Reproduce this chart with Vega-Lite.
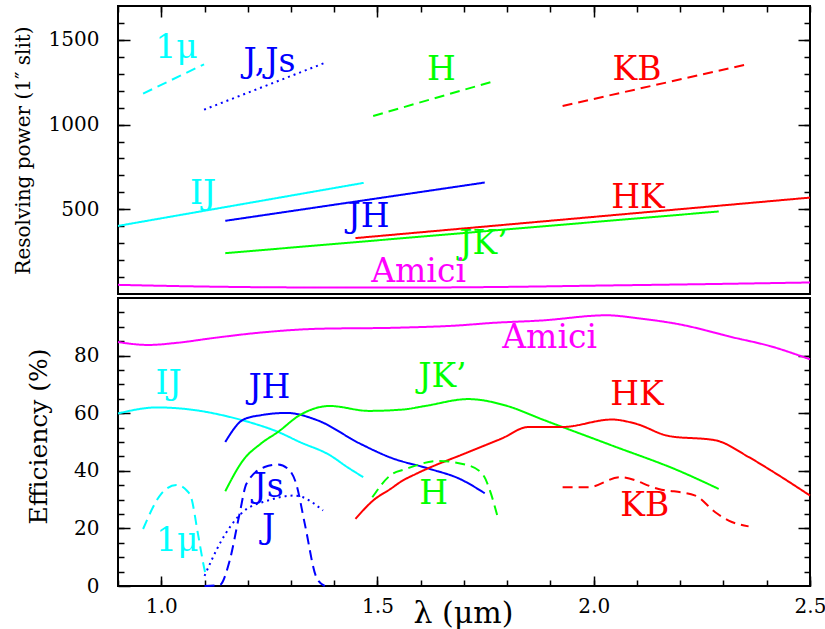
{
  "$schema": "https://vega.github.io/schema/vega-lite/v6.json",
  "autosize": {"type": "pad"},
  "padding": {"left": 12, "top": 4, "right": 0, "bottom": 3},
  "background": "white",
  "config": {
    "view": {"stroke": "black", "strokeWidth": 2},
    "axis": {"domain": false, "grid": false, "tickColor": "black", "tickWidth": 1.5, "labelFont": "DejaVu Serif", "labelFontSize": 20, "labelColor": "black", "titleFont": "DejaVu Serif", "titleColor": "black", "titleFontWeight": "normal", "labelFlush": false, "labelOverlap": false},
    "text": {"font": "DejaVu Serif"}
  },
  "datasets": {
    "top": [
      {"series": "1μ", "x": 0.958, "y": 1183}, {"series": "1μ", "x": 1.099, "y": 1356},
      {"series": "J,Js", "x": 1.099, "y": 1088}, {"series": "J,Js", "x": 1.378, "y": 1364},
      {"series": "H", "x": 1.49, "y": 1051}, {"series": "H", "x": 1.77, "y": 1257},
      {"series": "KB", "x": 1.928, "y": 1110}, {"series": "KB", "x": 2.348, "y": 1352},
      {"series": "IJ", "x": 0.9, "y": 402}, {"series": "IJ", "x": 1.468, "y": 656},
      {"series": "JH", "x": 1.148, "y": 432}, {"series": "JH", "x": 1.748, "y": 658},
      {"series": "HK", "x": 1.449, "y": 330}, {"series": "HK", "x": 2.5, "y": 569},
      {"series": "JK'", "x": 1.148, "y": 241}, {"series": "JK'", "x": 2.289, "y": 487},
      {"series": "Amici", "x": 0.9, "y": 54}, {"series": "Amici", "x": 1.1, "y": 44}, {"series": "Amici", "x": 1.3, "y": 39}, {"series": "Amici", "x": 1.55, "y": 38}, {"series": "Amici", "x": 1.8, "y": 42}, {"series": "Amici", "x": 2.02, "y": 50}, {"series": "Amici", "x": 2.25, "y": 58}, {"series": "Amici", "x": 2.5, "y": 68}
    ],
    "bottom": [
      {"series": "Amici", "x": 0.9, "y": 84.7}, {"series": "Amici", "x": 0.97, "y": 83.7}, {"series": "Amici", "x": 1.04, "y": 84.5}, {"series": "Amici", "x": 1.12, "y": 86.1}, {"series": "Amici", "x": 1.23, "y": 88.0}, {"series": "Amici", "x": 1.36, "y": 89.3}, {"series": "Amici", "x": 1.55, "y": 89.7}, {"series": "Amici", "x": 1.69, "y": 90.5}, {"series": "Amici", "x": 1.76, "y": 91.3}, {"series": "Amici", "x": 1.88, "y": 92.2}, {"series": "Amici", "x": 2.03, "y": 94.0}, {"series": "Amici", "x": 2.1, "y": 93.0}, {"series": "Amici", "x": 2.2, "y": 90.8}, {"series": "Amici", "x": 2.32, "y": 86.4}, {"series": "Amici", "x": 2.41, "y": 83.2}, {"series": "Amici", "x": 2.5, "y": 78.7},
      {"series": "IJ", "x": 0.9, "y": 59.9}, {"series": "IJ", "x": 0.99, "y": 62.0}, {"series": "IJ", "x": 1.09, "y": 60.8}, {"series": "IJ", "x": 1.15, "y": 59.0}, {"series": "IJ", "x": 1.21, "y": 56.6}, {"series": "IJ", "x": 1.27, "y": 53.5}, {"series": "IJ", "x": 1.32, "y": 50.0}, {"series": "IJ", "x": 1.39, "y": 45.4}, {"series": "IJ", "x": 1.43, "y": 41.3}, {"series": "IJ", "x": 1.467, "y": 37.8},
      {"series": "JH", "x": 1.148, "y": 50.0}, {"series": "JH", "x": 1.19, "y": 57.8}, {"series": "JH", "x": 1.23, "y": 59.3}, {"series": "JH", "x": 1.29, "y": 60.1}, {"series": "JH", "x": 1.36, "y": 57.6}, {"series": "JH", "x": 1.46, "y": 49.4}, {"series": "JH", "x": 1.53, "y": 44.6}, {"series": "JH", "x": 1.62, "y": 40.7}, {"series": "JH", "x": 1.69, "y": 37.2}, {"series": "JH", "x": 1.748, "y": 32.2},
      {"series": "JK'", "x": 1.148, "y": 32.9}, {"series": "JK'", "x": 1.19, "y": 43.8}, {"series": "JK'", "x": 1.23, "y": 49.4}, {"series": "JK'", "x": 1.27, "y": 53.5}, {"series": "JK'", "x": 1.32, "y": 59.3}, {"series": "JK'", "x": 1.39, "y": 62.5}, {"series": "JK'", "x": 1.48, "y": 60.8}, {"series": "JK'", "x": 1.56, "y": 61.3}, {"series": "JK'", "x": 1.61, "y": 62.5}, {"series": "JK'", "x": 1.71, "y": 64.9}, {"series": "JK'", "x": 1.8, "y": 62.5}, {"series": "JK'", "x": 1.88, "y": 57.9}, {"series": "JK'", "x": 2.04, "y": 48.9}, {"series": "JK'", "x": 2.2, "y": 39.8}, {"series": "JK'", "x": 2.289, "y": 33.7},
      {"series": "HK", "x": 1.449, "y": 23.3}, {"series": "HK", "x": 1.49, "y": 29.7}, {"series": "HK", "x": 1.53, "y": 33.7}, {"series": "HK", "x": 1.556, "y": 36.4}, {"series": "HK", "x": 1.59, "y": 39.0}, {"series": "HK", "x": 1.71, "y": 46.5}, {"series": "HK", "x": 1.787, "y": 51.2}, {"series": "HK", "x": 1.849, "y": 55.2}, {"series": "HK", "x": 1.926, "y": 55.2}, {"series": "HK", "x": 2.042, "y": 57.8}, {"series": "HK", "x": 2.096, "y": 56.4}, {"series": "HK", "x": 2.173, "y": 52.1}, {"series": "HK", "x": 2.281, "y": 50.6}, {"series": "HK", "x": 2.358, "y": 44.8}, {"series": "HK", "x": 2.41, "y": 40.1}, {"series": "HK", "x": 2.5, "y": 31.4},
      {"series": "H", "x": 1.488, "y": 30.8}, {"series": "H", "x": 1.532, "y": 38.7}, {"series": "H", "x": 1.563, "y": 40.5}, {"series": "H", "x": 1.64, "y": 43.4}, {"series": "H", "x": 1.71, "y": 41.9}, {"series": "H", "x": 1.745, "y": 38.4}, {"series": "H", "x": 1.76, "y": 33.1}, {"series": "H", "x": 1.779, "y": 23.3},
      {"series": "KB", "x": 1.928, "y": 34.3}, {"series": "KB", "x": 1.988, "y": 34.3}, {"series": "KB", "x": 2.061, "y": 37.8}, {"series": "KB", "x": 2.15, "y": 33.7}, {"series": "KB", "x": 2.235, "y": 31.4}, {"series": "KB", "x": 2.281, "y": 25.6}, {"series": "KB", "x": 2.312, "y": 22.7}, {"series": "KB", "x": 2.358, "y": 20.7},
      {"series": "1μ", "x": 0.958, "y": 19.8}, {"series": "1μ", "x": 1.0, "y": 32.0}, {"series": "1μ", "x": 1.035, "y": 35.1}, {"series": "1μ", "x": 1.06, "y": 33.0}, {"series": "1μ", "x": 1.069, "y": 30.8}, {"series": "1μ", "x": 1.085, "y": 18.0}, {"series": "1μ", "x": 1.099, "y": 6.4}, {"series": "1μ", "x": 1.104, "y": 3.0},
      {"series": "J", "x": 1.1, "y": 3.5}, {"series": "J", "x": 1.139, "y": 15.7}, {"series": "J", "x": 1.185, "y": 25.2}, {"series": "J", "x": 1.247, "y": 29.7}, {"series": "J", "x": 1.309, "y": 31.4}, {"series": "J", "x": 1.374, "y": 26.2},
      {"series": "Js", "x": 1.1, "y": 0}, {"series": "Js", "x": 1.135, "y": 0.3}, {"series": "Js", "x": 1.158, "y": 8.7}, {"series": "Js", "x": 1.181, "y": 25}, {"series": "Js", "x": 1.197, "y": 35.5}, {"series": "Js", "x": 1.239, "y": 41.3}, {"series": "Js", "x": 1.27, "y": 42.2}, {"series": "Js", "x": 1.293, "y": 40.7}, {"series": "Js", "x": 1.312, "y": 35.5}, {"series": "Js", "x": 1.332, "y": 21.5}, {"series": "Js", "x": 1.359, "y": 2.9}, {"series": "Js", "x": 1.378, "y": 0}
    ],
    "toplabels": [
      {"label": "1μ", "series": "1μ", "x": 1.035, "y": 1452},
      {"label": "J,Js", "series": "J,Js", "x": 1.25, "y": 1370},
      {"label": "H", "series": "H", "x": 1.648, "y": 1322},
      {"label": "KB", "series": "KB", "x": 2.1, "y": 1322},
      {"label": "IJ", "series": "IJ", "x": 1.097, "y": 591},
      {"label": "JH", "series": "JH", "x": 1.479, "y": 455},
      {"label": "HK", "series": "HK", "x": 2.102, "y": 567},
      {"label": "JK’", "series": "JK'", "x": 1.745, "y": 296},
      {"label": "Amici", "series": "Amici", "x": 1.595, "y": 131}
    ],
    "bottomlabels": [
      {"label": "Amici", "series": "Amici", "x": 1.898, "y": 86.2},
      {"label": "IJ", "series": "IJ", "x": 1.017, "y": 70.1},
      {"label": "JH", "series": "JH", "x": 1.25, "y": 68.7},
      {"label": "JK’", "series": "JK'", "x": 1.65, "y": 72.6},
      {"label": "HK", "series": "HK", "x": 2.1, "y": 66.3},
      {"label": "Js", "series": "Js", "x": 1.248, "y": 34.5},
      {"label": "J", "series": "J", "x": 1.248, "y": 20.2},
      {"label": "1μ", "series": "1μ", "x": 1.037, "y": 15.7},
      {"label": "H", "series": "H", "x": 1.63, "y": 32.1},
      {"label": "KB", "series": "KB", "x": 2.118, "y": 27.9}
    ]
  },
  "spacing": 2,
  "vconcat": [
    {
      "width": 692, "height": 288,
      "resolve": {"axis": {"x": "independent", "y": "independent"}},
      "layer": [
        {
          "data": {"name": "top"},
          "mark": {"type": "line", "strokeWidth": 2, "interpolate": "monotone"},
          "encoding": {
            "x": {"field": "x", "type": "quantitative", "scale": {"domain": [0.9, 2.5], "nice": false, "zero": false}, "axis": {"orient": "top", "values": [1, 1.5, 2], "tickSize": -11, "labels": false, "title": null}},
            "y": {"field": "y", "type": "quantitative", "scale": {"domain": [0, 1700], "nice": false, "zero": false}, "axis": {"orient": "left", "values": [500, 1000, 1500], "format": "d", "tickSize": -12, "labelPadding": 31, "title": "Resolving power (1″ slit)", "titleFontSize": 20, "titleX": -95, "titleY": 144, "titleAngle": -90, "titleAlign": "center", "titleBaseline": "middle"}},
            "color": {"field": "series", "type": "nominal", "scale": {"domain": ["1μ", "IJ", "J", "Js", "J,Js", "JH", "H", "JK'", "KB", "HK", "Amici"], "range": ["#00ffff", "#00ffff", "#0000ff", "#0000ff", "#0000ff", "#0000ff", "#00ff00", "#00ff00", "#ff0000", "#ff0000", "#ff00ff"]}, "legend": null},
            "strokeDash": {"field": "series", "type": "nominal", "scale": {"domain": ["1μ", "IJ", "J", "Js", "J,Js", "JH", "H", "JK'", "KB", "HK", "Amici"], "range": [[10, 6], [1, 0], [2, 4], [10, 6], [2, 4], [1, 0], [10, 6], [1, 0], [10, 6], [1, 0], [1, 0]]}, "legend": null}
          }
        },
        {
          "data": {"name": "toplabels"},
          "mark": {"type": "text", "fontSize": 33, "font": "DejaVu Serif", "align": "center", "baseline": "middle"},
          "encoding": {
            "x": {"field": "x", "type": "quantitative", "scale": {"domain": [0.9, 2.5], "nice": false, "zero": false}, "axis": {"orient": "top", "values": [0.9, 1.0, 1.1, 1.2, 1.3, 1.4, 1.5, 1.6, 1.7, 1.8, 1.9, 2.0, 2.1, 2.2, 2.3, 2.4, 2.5], "tickSize": -6, "labels": false, "title": null}},
            "y": {"field": "y", "type": "quantitative", "scale": {"domain": [0, 1700], "nice": false, "zero": false}, "axis": {"orient": "left", "values": [100, 200, 300, 400, 500, 600, 700, 800, 900, 1000, 1100, 1200, 1300, 1400, 1500, 1600], "tickSize": -6, "labels": false, "title": null}},
            "text": {"field": "label"},
            "color": {"field": "series", "type": "nominal", "legend": null}
          }
        },
        {
          "data": {"name": "toplabels"},
          "mark": {"type": "point", "opacity": 0},
          "encoding": {
            "x": {"field": "x", "type": "quantitative", "scale": {"domain": [0.9, 2.5], "nice": false, "zero": false}, "axis": null},
            "y": {"field": "y", "type": "quantitative", "scale": {"domain": [0, 1700], "nice": false, "zero": false}, "axis": {"orient": "right", "values": [500, 1000, 1500], "tickSize": -12, "labels": false, "title": null}}
          }
        },
        {
          "data": {"name": "toplabels"},
          "mark": {"type": "point", "opacity": 0},
          "encoding": {
            "x": {"field": "x", "type": "quantitative", "scale": {"domain": [0.9, 2.5], "nice": false, "zero": false}, "axis": null},
            "y": {"field": "y", "type": "quantitative", "scale": {"domain": [0, 1700], "nice": false, "zero": false}, "axis": {"orient": "right", "values": [100, 200, 300, 400, 500, 600, 700, 800, 900, 1000, 1100, 1200, 1300, 1400, 1500, 1600], "tickSize": -6, "labels": false, "title": null}}
          }
        }
      ]
    },
    {
      "width": 692, "height": 288,
      "resolve": {"axis": {"x": "independent", "y": "independent"}},
      "layer": [
        {
          "data": {"name": "bottom"},
          "mark": {"type": "line", "strokeWidth": 2, "interpolate": "monotone"},
          "encoding": {
            "x": {"field": "x", "type": "quantitative", "scale": {"domain": [0.9, 2.5], "nice": false, "zero": false}, "axis": {"orient": "bottom", "values": [1, 1.5, 2, 2.5], "format": ".1f", "tickSize": -10, "labelPadding": 20, "title": "λ (μm)", "titleFontSize": 30, "titleX": 345, "titleY": 27, "titleAngle": 0, "titleAlign": "center", "titleBaseline": "middle"}},
            "y": {"field": "y", "type": "quantitative", "scale": {"domain": [0, 100], "nice": false, "zero": false}, "axis": {"orient": "left", "values": [0, 20, 40, 60, 80], "tickSize": -12, "labelPadding": 31, "title": "Efficiency (%)", "titleFontSize": 25, "titleX": -80, "titleY": 138, "titleAngle": -90, "titleAlign": "center", "titleBaseline": "middle"}},
            "color": {"field": "series", "type": "nominal", "scale": {"domain": ["1μ", "IJ", "J", "Js", "J,Js", "JH", "H", "JK'", "KB", "HK", "Amici"], "range": ["#00ffff", "#00ffff", "#0000ff", "#0000ff", "#0000ff", "#0000ff", "#00ff00", "#00ff00", "#ff0000", "#ff0000", "#ff00ff"]}, "legend": null},
            "strokeDash": {"field": "series", "type": "nominal", "scale": {"domain": ["1μ", "IJ", "J", "Js", "J,Js", "JH", "H", "JK'", "KB", "HK", "Amici"], "range": [[10, 6], [1, 0], [2, 4], [10, 6], [2, 4], [1, 0], [10, 6], [1, 0], [10, 6], [1, 0], [1, 0]]}, "legend": null}
          }
        },
        {
          "data": {"name": "bottomlabels"},
          "mark": {"type": "text", "fontSize": 33, "font": "DejaVu Serif", "align": "center", "baseline": "middle"},
          "encoding": {
            "x": {"field": "x", "type": "quantitative", "scale": {"domain": [0.9, 2.5], "nice": false, "zero": false}, "axis": {"orient": "bottom", "values": [0.9, 1.0, 1.1, 1.2, 1.3, 1.4, 1.5, 1.6, 1.7, 1.8, 1.9, 2.0, 2.1, 2.2, 2.3, 2.4, 2.5], "tickSize": -6, "labels": false, "title": null}},
            "y": {"field": "y", "type": "quantitative", "scale": {"domain": [0, 100], "nice": false, "zero": false}, "axis": {"orient": "left", "values": [5, 10, 15, 20, 25, 30, 35, 40, 45, 50, 55, 60, 65, 70, 75, 80, 85, 90, 95], "tickSize": -6, "labels": false, "title": null}},
            "text": {"field": "label"},
            "color": {"field": "series", "type": "nominal", "legend": null}
          }
        },
        {
          "data": {"name": "bottomlabels"},
          "mark": {"type": "point", "opacity": 0},
          "encoding": {
            "x": {"field": "x", "type": "quantitative", "scale": {"domain": [0.9, 2.5], "nice": false, "zero": false}, "axis": null},
            "y": {"field": "y", "type": "quantitative", "scale": {"domain": [0, 100], "nice": false, "zero": false}, "axis": {"orient": "right", "values": [20, 40, 60, 80], "tickSize": -12, "labels": false, "title": null}}
          }
        },
        {
          "data": {"name": "bottomlabels"},
          "mark": {"type": "point", "opacity": 0},
          "encoding": {
            "x": {"field": "x", "type": "quantitative", "scale": {"domain": [0.9, 2.5], "nice": false, "zero": false}, "axis": null},
            "y": {"field": "y", "type": "quantitative", "scale": {"domain": [0, 100], "nice": false, "zero": false}, "axis": {"orient": "right", "values": [5, 10, 15, 20, 25, 30, 35, 40, 45, 50, 55, 60, 65, 70, 75, 80, 85, 90, 95], "tickSize": -6, "labels": false, "title": null}}
          }
        }
      ]
    }
  ]
}
